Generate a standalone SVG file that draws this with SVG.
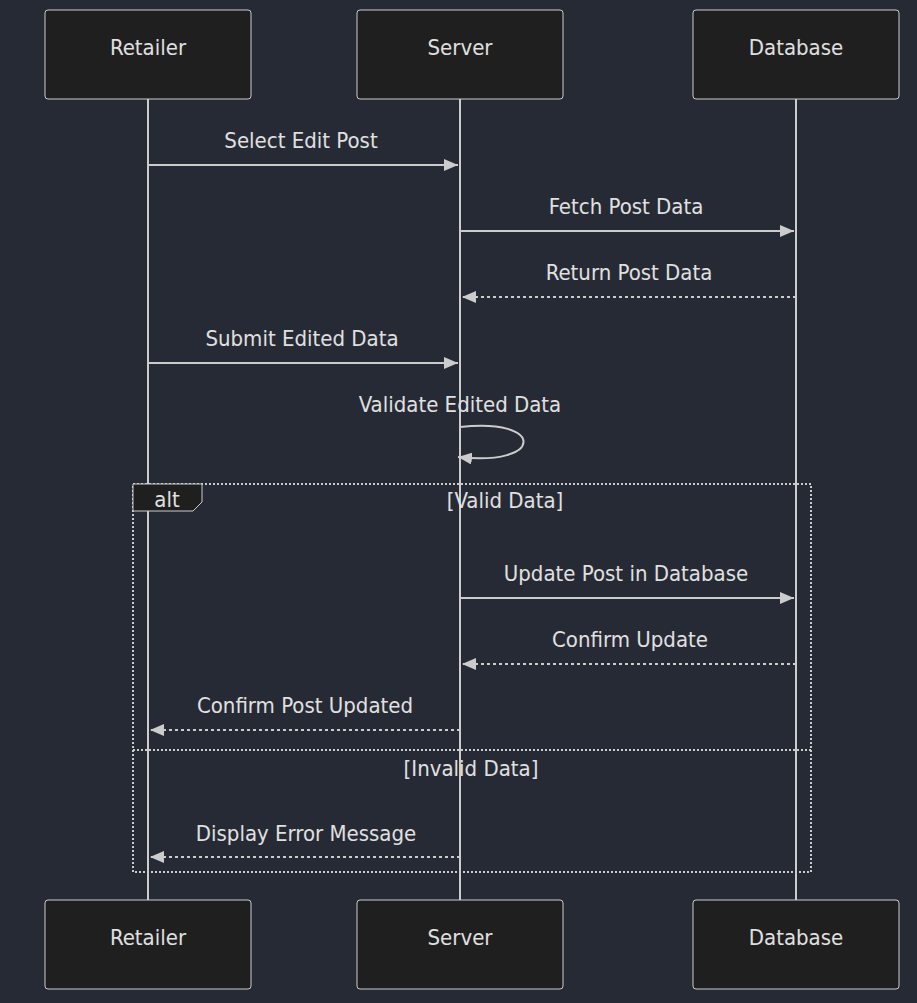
<svg xmlns="http://www.w3.org/2000/svg" width="917" height="1003" viewBox="0 0 917 1003">
<style>
.bg{fill:#262a35}
.actor{fill:#1f1f1f;stroke:#cccccc;stroke-width:1}
.atext{fill:#e0e0e0;font-family:"DejaVu Sans Condensed","DejaVu Sans",sans-serif;font-size:22px;text-anchor:middle;dominant-baseline:central}
.life{stroke:#cccccc;stroke-width:2;fill:none}
.msg{stroke:#cccccc;stroke-width:2;fill:none}
.dash{stroke-dasharray:3,3}
.mtext{fill:#e0e0e0;font-family:"DejaVu Sans Condensed","DejaVu Sans",sans-serif;font-size:22px;text-anchor:middle}
.loop{stroke:#cccccc;stroke-width:2;fill:none;stroke-dasharray:2,2}
.lbl{fill:#1f1f1f;stroke:#cccccc;stroke-width:1}
</style>
<defs>
<marker id="arrow" viewBox="0 0 14 12" refX="14" refY="6" markerWidth="14" markerHeight="12" markerUnits="userSpaceOnUse" orient="auto">
<path d="M0,0 L14,6 L0,12 z" fill="#cccccc"/>
</marker>
</defs>
<rect class="bg" width="917" height="1003"/>
<g id="lifelines">
<line class="life" x1="148" y1="99" x2="148" y2="900"/>
<line class="life" x1="460" y1="99" x2="460" y2="900"/>
<line class="life" x1="796" y1="99" x2="796" y2="900"/>
</g>
<g id="actor-retailer-top"><rect class="actor" x="45" y="10" width="206" height="89" rx="3"/><text class="atext" x="148" y="47">Retailer</text></g>
<g id="actor-server-top"><rect class="actor" x="357" y="10" width="206" height="89" rx="3"/><text class="atext" x="460" y="47">Server</text></g>
<g id="actor-database-top"><rect class="actor" x="693" y="10" width="206" height="89" rx="3"/><text class="atext" x="796" y="47">Database</text></g>
<g id="actor-retailer-bottom"><rect class="actor" x="45" y="900" width="206" height="89" rx="3"/><text class="atext" x="148" y="937">Retailer</text></g>
<g id="actor-server-bottom"><rect class="actor" x="357" y="900" width="206" height="89" rx="3"/><text class="atext" x="460" y="937">Server</text></g>
<g id="actor-database-bottom"><rect class="actor" x="693" y="900" width="206" height="89" rx="3"/><text class="atext" x="796" y="937">Database</text></g>
<g id="alt-frame">
<rect class="loop" x="133" y="484" width="678" height="388"/>
<polygon class="lbl" points="133,484 202,484 202,502 193,511 133,511"/>
<text class="mtext" x="167" y="507">alt</text>
<text class="mtext" x="505" y="508">[Valid Data]</text>
<line class="loop" x1="133" y1="750" x2="811" y2="750"/>
<text class="mtext" x="471" y="776">[Invalid Data]</text>
</g>
<g id="connectors">
<line class="msg" x1="148" y1="165" x2="458" y2="165" marker-end="url(#arrow)"/>
<text class="mtext" x="301" y="148">Select Edit Post</text>
<line class="msg" x1="460" y1="231" x2="794" y2="231" marker-end="url(#arrow)"/>
<text class="mtext" x="626" y="214">Fetch Post Data</text>
<line class="msg dash" x1="796" y1="297" x2="462" y2="297" marker-end="url(#arrow)"/>
<text class="mtext" x="629" y="280">Return Post Data</text>
<line class="msg" x1="148" y1="363" x2="458" y2="363" marker-end="url(#arrow)"/>
<text class="mtext" x="302" y="346">Submit Edited Data</text>
<path class="msg" d="M460,427 C545,417 545,467 458,457" marker-end="url(#arrow)"/>
<text class="mtext" x="460" y="412">Validate Edited Data</text>
<line class="msg" x1="460" y1="598" x2="794" y2="598" marker-end="url(#arrow)"/>
<text class="mtext" x="626" y="581">Update Post in Database</text>
<line class="msg dash" x1="796" y1="664" x2="462" y2="664" marker-end="url(#arrow)"/>
<text class="mtext" x="630" y="647">Confirm Update</text>
<line class="msg dash" x1="460" y1="730" x2="150" y2="730" marker-end="url(#arrow)"/>
<text class="mtext" x="305" y="713">Confirm Post Updated</text>
<line class="msg dash" x1="460" y1="857" x2="150" y2="857" marker-end="url(#arrow)"/>
<text class="mtext" x="306" y="841">Display Error Message</text>
</g>
</svg>
